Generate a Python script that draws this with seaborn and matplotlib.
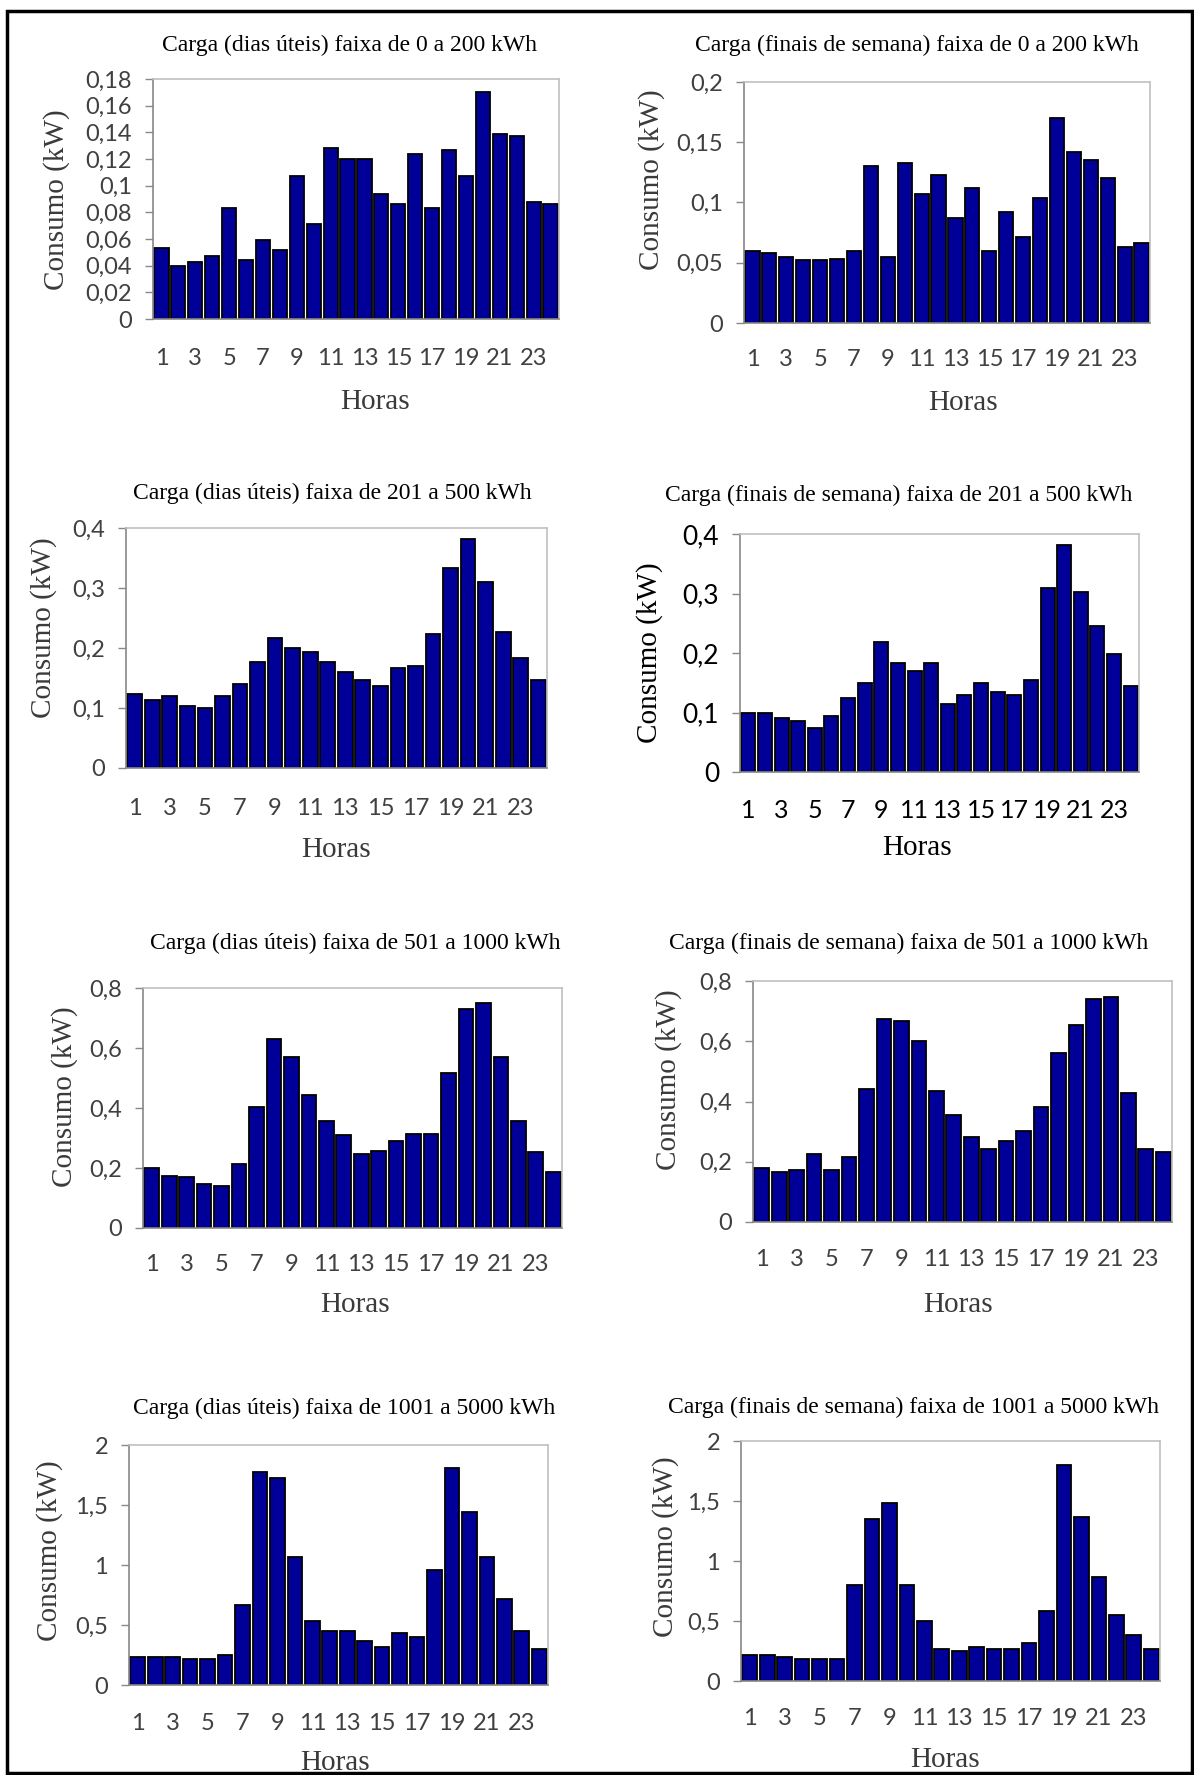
import matplotlib
matplotlib.use("Agg")
import numpy as np
import pandas as pd
import matplotlib.pyplot as plt
import seaborn as sns
from matplotlib.ticker import FuncFormatter, MultipleLocator
from matplotlib.patches import Rectangle

# Horas do dia
horas = list(range(1, 25))

# Consumo médio (kW) por faixa - dias úteis
util_0_200 = [0.053, 0.040, 0.043, 0.047, 0.083, 0.044, 0.059, 0.052, 0.107, 0.071, 0.128, 0.120,
              0.120, 0.094, 0.086, 0.124, 0.083, 0.127, 0.107, 0.170, 0.139, 0.137, 0.088, 0.086]
util_201_500 = [0.123, 0.113, 0.120, 0.104, 0.100, 0.120, 0.140, 0.177, 0.217, 0.200, 0.193, 0.177,
                0.160, 0.147, 0.137, 0.167, 0.170, 0.224, 0.334, 0.381, 0.310, 0.227, 0.183, 0.147]
util_501_1000 = [0.201, 0.174, 0.169, 0.148, 0.141, 0.214, 0.403, 0.630, 0.571, 0.443, 0.357, 0.309,
                 0.248, 0.256, 0.289, 0.314, 0.314, 0.517, 0.731, 0.750, 0.571, 0.357, 0.254, 0.187]
util_1001_5000 = [0.233, 0.233, 0.233, 0.219, 0.219, 0.253, 0.669, 1.772, 1.722, 1.069, 0.536, 0.453,
                  0.453, 0.369, 0.319, 0.436, 0.403, 0.956, 1.806, 1.439, 1.069, 0.719, 0.453, 0.303]

# Consumo médio (kW) por faixa - finais de semana
fds_0_200 = [0.060, 0.058, 0.055, 0.052, 0.052, 0.053, 0.060, 0.130, 0.055, 0.133, 0.107, 0.123,
             0.087, 0.112, 0.060, 0.092, 0.071, 0.104, 0.170, 0.142, 0.135, 0.120, 0.063, 0.066]
fds_201_500 = [0.100, 0.099, 0.091, 0.086, 0.074, 0.094, 0.124, 0.150, 0.218, 0.183, 0.170, 0.184,
               0.114, 0.129, 0.150, 0.134, 0.129, 0.154, 0.310, 0.381, 0.303, 0.246, 0.199, 0.145]
fds_501_1000 = [0.180, 0.167, 0.174, 0.227, 0.174, 0.215, 0.441, 0.675, 0.667, 0.601, 0.434, 0.354,
                0.281, 0.241, 0.268, 0.301, 0.381, 0.561, 0.654, 0.741, 0.747, 0.428, 0.241, 0.233]
fds_1001_5000 = [0.217, 0.217, 0.200, 0.183, 0.183, 0.183, 0.800, 1.350, 1.486, 0.800, 0.500, 0.267,
                 0.250, 0.283, 0.267, 0.267, 0.317, 0.583, 1.803, 1.367, 0.867, 0.550, 0.383, 0.267]

titulos = [
    "Carga (dias úteis) faixa de 0 a 200 kWh",
    "Carga (finais de semana) faixa de 0 a 200 kWh",
    "Carga (dias úteis) faixa de 201 a 500 kWh",
    "Carga (finais de semana) faixa de 201 a 500 kWh",
    "Carga (dias úteis) faixa de 501 a 1000 kWh",
    "Carga (finais de semana) faixa de 501 a 1000 kWh",
    "Carga (dias úteis) faixa de 1001 a 5000 kWh",
    "Carga (finais de semana) faixa de 1001 a 5000 kWh",
]
series = [util_0_200, fds_0_200, util_201_500, fds_201_500,
          util_501_1000, fds_501_1000, util_1001_5000, fds_1001_5000]
y_max = [0.18, 0.2, 0.4, 0.4, 0.8, 0.8, 2, 2]
y_passo = [0.02, 0.05, 0.1, 0.1, 0.2, 0.2, 0.5, 0.5]

sns.set_theme(style="white")
plt.rcParams["font.family"] = ["Liberation Serif", "DejaVu Serif"]

W, H = 1194, 1775
fig = plt.figure(figsize=(W / 100, H / 100), dpi=100)


def rect(l, t, r, b):
    return [l / W, 1 - b / H, (r - l) / W, (b - t) / H]


# layout em pixels: eixo (l, t, r, b), titulo, ylabel, "Horas", y dos rótulos x
layout = [
    dict(ax=(153, 79, 559, 319), tit=(350, 45), yl=(57, 200), hx=(375, 402), xt=357),
    dict(ax=(744, 82, 1150, 323), tit=(917, 45), yl=(652, 180), hx=(963, 403), xt=358),
    dict(ax=(126, 528, 547, 768), tit=(332, 493), yl=(44, 628), hx=(336, 850), xt=807),
    dict(ax=(740, 534, 1139, 772), tit=(899, 495), yl=(650, 653), hx=(917, 848), xt=808),
    dict(ax=(143, 988, 562, 1228), tit=(355, 943), yl=(65, 1097), hx=(355, 1305), xt=1263),
    dict(ax=(753, 981, 1172, 1222), tit=(909, 943), yl=(669, 1080), hx=(958, 1305), xt=1258),
    dict(ax=(129, 1445, 548, 1685), tit=(344, 1408), yl=(50, 1551), hx=(335, 1763), xt=1722),
    dict(ax=(741, 1441, 1160, 1681), tit=(914, 1407), yl=(666, 1547), hx=(945, 1760), xt=1717),
]

virgula = FuncFormatter(lambda v, p: ("%g" % round(v, 4)).replace(".", ","))

for i, (vals, tit, lay) in enumerate(zip(series, titulos, layout)):
    l, t, r, b = lay["ax"]
    ax = fig.add_axes(rect(l, t, r, b))
    destaque = (i == 3)  # este painel tem texto preto e nítido
    cor_txt = "black" if destaque else "#404040"
    tam_y = 19 if destaque else 17
    tam_x = 18 if destaque else 17

    df = pd.DataFrame({"Hora": horas, "Consumo": vals})
    sns.barplot(data=df, x="Hora", y="Consumo", ax=ax, color="#000099",
                edgecolor="black", linewidth=1.3, width=0.84, saturation=1)

    ax.set_xlim(-0.5, 23.5)
    ax.set_ylim(0, y_max[i])
    ax.yaxis.set_major_locator(MultipleLocator(y_passo[i]))
    ax.yaxis.set_major_formatter(virgula)
    ax.set_xticks(range(0, 24, 2))
    ax.set_xticklabels(horas[::2])
    ax.set_xlabel("")
    ax.set_ylabel("")

    pad_x = (lay["xt"] - b - 9) * 0.72
    ax.tick_params(axis="x", length=0, pad=pad_x, labelsize=tam_x, labelcolor=cor_txt)
    ax.tick_params(axis="y", left=True, length=6, width=1, color="#888888",
                   pad=9, labelsize=tam_y, labelcolor=cor_txt)
    for lab in ax.get_xticklabels() + ax.get_yticklabels():
        lab.set_family(["Lato", "DejaVu Sans"])

    for lado in ["left", "bottom"]:
        ax.spines[lado].set_color("#888888")
        ax.spines[lado].set_linewidth(1.2)
    for lado in ["top", "right"]:
        ax.spines[lado].set_color("#c0c0c0")
        ax.spines[lado].set_linewidth(1.2)

    fig.text(lay["tit"][0] / W, 1 - lay["tit"][1] / H, tit, ha="center", va="center",
             fontsize=17, color="black")
    fig.text(lay["yl"][0] / W, 1 - lay["yl"][1] / H, "Consumo (kW)", rotation=90,
             ha="center", va="center", fontsize=21, color="black" if destaque else "#3a3a3a")
    fig.text(lay["hx"][0] / W, 1 - lay["hx"][1] / H, "Horas", ha="center", va="center",
             fontsize=21, color="black" if destaque else "#3a3a3a")

# moldura externa
fig.patches.append(Rectangle((7 / W, 2 / H), 1185 / W, 1 - 13 / H, transform=fig.transFigure,
                             fill=False, edgecolor="black", linewidth=2.5))

fig.savefig("out.png", dpi=100)
